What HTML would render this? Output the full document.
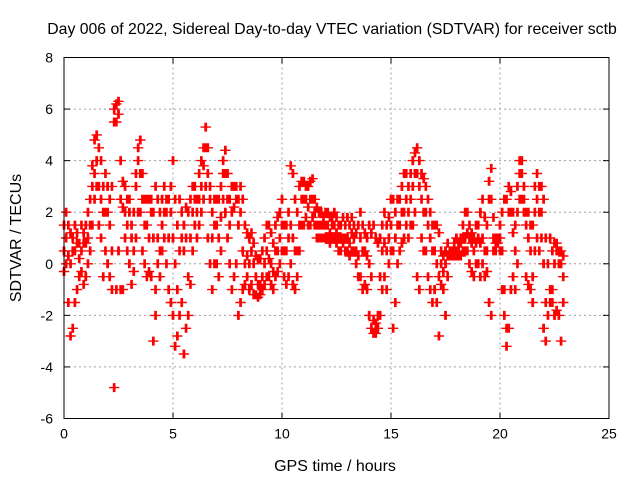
<!DOCTYPE html>
<html><head><meta charset="utf-8"><style>
body{margin:0;background:#fff;width:640px;height:480px;overflow:hidden}
svg text{font-family:"Liberation Sans",sans-serif;fill:#000}
</style></head><body>
<svg id="chart" width="640" height="480" xmlns="http://www.w3.org/2000/svg">
<text x="332" y="34" font-size="15.8" text-anchor="middle">Day 006 of 2022, Sidereal Day-to-day VTEC variation (SDTVAR) for receiver sctb</text>
<text x="0" y="0" font-size="16" text-anchor="middle" transform="translate(21,238) rotate(-90)">SDTVAR / TECUs</text>
<text x="335" y="471" font-size="16" text-anchor="middle">GPS time / hours</text>
<g id="grid"></g>
<g id="ticks"></g>
<g id="marks"></g>
<rect x="64" y="57.5" width="545" height="361" fill="none" stroke="#000" stroke-width="1"/>
</svg>
<script>
const xTicks=[0,5,10,15,20,25];
const yTicks=[-6,-4,-2,0,2,4,6,8];
const tStart=0, tStep=0.1;
const hiVals=[1.5,2,1.5,1.2,1,1.5,1.2,0.8,1.5,1.2,
1.5,2,2.5,3.8,4.8,5,4.5,4,3,3.5,
3,2.5,3,6,6.2,6.3,4,3.2,3,2.5,
2.5,1.5,2,3.5,4.5,4.8,3.5,2.5,2.5,2.5,
2.5,2,3,2.5,2,2.5,3,2.5,2.5,3,
4,2.5,1.5,2.5,2,1.5,2.2,2,2.5,3,
3,2.5,3.5,4,4.5,5.3,4.5,3,2,2.5,
2.5,2.5,3,4,4.4,3.5,2.5,3,3,3,
2.5,3,2.5,1.5,1.2,1,1.2,0.8,0.3,0.2,
0.2,0.5,1,1.5,1.5,1.2,0.8,1.5,1.8,2,
2.5,1.5,1.5,2,3.8,3.5,2.5,2,3,3.2,
3.2,3,3,3.2,3.3,2.5,2.2,2,2,1.8,
2,2,1.8,1.8,2,1.8,1.5,1.5,1.8,1.5,
1.8,1.5,1.8,1.5,1.2,1.5,2,1.5,1.2,1,
1.5,1.2,1.5,1,0.8,1,1.5,2,1.5,1.8,
2.5,2.5,2,2.5,2.5,3,3.5,3.5,3,3.5,
4,4.3,4.5,4,3.5,3.3,3,2.5,2,1.5,
1.5,1.5,1.2,0.5,0.3,0.5,0.8,0.5,0.5,0.8,
1,0.8,1,1.5,2,2,1.5,1.2,1,1.5,
1.5,2,2.5,1.8,1.5,3.2,3.7,1.8,1,1,
1.5,2,2.5,2.5,3,2.8,2,1.5,3,4,
4,3,2,2,1.5,1.5,3,3.5,3,3,
2.5,1,0,1,0.5,0.8,0.8,0.5,0.5,0.3];
const midVals=[0.5,1,0.3,0,0.5,0.5,0.8,0.2,0.5,0.8,
0.8,1,1.5,3,3.5,4,3,2.5,2,2,
2,1.5,0.5,5.5,5.5,5.8,2.5,2.2,2,1.5,
2,1,0.5,3,4,3.5,2.5,1.5,1.5,1,
2,1,-1,1,0.5,1.5,2,2,1,2,
1,0,-1,0.5,1,0.5,1,-0.5,1,2,
2.5,2,2.5,3,3.8,4.5,3.5,2.5,1,1.5,
1.5,1,1.8,3.5,3.5,2.5,1.5,2,2.2,2.5,
1.5,2,0.5,0,0.3,0,0.5,0,-0.5,-0.8,
-0.8,-0.5,0,0.5,0.2,0,-0.3,0.5,0.5,1,
1.5,0.5,0.5,1,1.5,1,0.5,0.5,1.5,2.5,
2.5,2.5,2.2,2.5,2.5,2,1.5,1.5,1.5,1.5,
1.5,1.5,1.2,1.5,1.5,1.2,1,1,1,1,
1,0.8,1.2,1,0.5,0.3,1,0.5,0.5,0.3,
0,-0.5,-2.2,-2.3,-2,-0.5,0.5,0.8,0.5,1,
1.5,0.5,1,1.5,1.5,2,2,2.5,2,2.5,
3,3.5,3.5,3,2.5,2,2,1.5,1,0.5,
0.5,0,-0.5,0,-0.3,0,0.3,0.5,0.5,0.5,
0.5,0.5,0.8,1,1,1.2,1,0.8,0.5,0.8,
1,0.8,1,0.5,0.5,2.5,2.5,1,0.8,1,
1,0.5,-1,-2.5,2,2,1.2,0.5,2,3.5,
3.5,2.5,1.5,1,0.5,-0.5,2,2.5,2,2,
0,-1.5,-2,-1,-1,0,0.5,0,0,-0.5];
const loVals=[-0.3,0,-1.5,-2.8,-2.5,-1.5,-1,-0.5,-0.3,-0.8,
-0.5,0,0.5,1.5,2.5,3,1.5,1,-0.5,0.5,
0,-0.5,-1,-4.8,-1,0.5,-1,-1,1,0.5,
0,-0.8,-0.3,1,2,2,0.5,0,-0.5,-0.3,
-0.5,-3,-2,0,-0.5,0.5,1,0,-1,-1.5,
-2,-3.2,-2.8,-2,-1.5,-3.5,-2.5,-2,-0.8,0.5,
1.5,1,1.5,2,2.5,3,1,0,-1,0,
0,-0.5,0.5,2.5,2,1,0,-1,-0.5,0,
-2,-1.5,-1,-0.8,-0.5,-1,-0.8,-1.2,-1.2,-1.3,
-1.2,-1,-0.8,-0.5,-0.5,-0.8,-1,-0.5,-0.3,0,
0.5,-0.5,-0.8,-0.5,0,-0.8,-1,-0.5,0.5,1.5,
1.5,1.8,1.5,1.5,1.8,1.5,1,1,1,1,
1,1,0.8,1,1,0.8,0.5,0.5,0.8,0.5,
0.5,0.3,0.5,0.5,0,-0.5,-0.5,-1,-0.8,-1,
-2,-2.5,-2.7,-2.7,-2.5,-2,-1,-0.5,-1,0,
0.5,-2.5,-1.5,0,0.5,0.8,1,1.5,1,1.5,
1.5,2,-0.5,-1,1,0.5,0.5,-0.5,-1,-1.5,
-1,-1.5,-2.8,-0.8,-1,-2,-0.5,0.3,0.3,0.3,
0.3,0.3,0.3,0.5,0.5,0.5,0,-0.3,-0.5,0,
0,-0.5,0,-0.5,-0.3,-1.5,-2,0.5,0.5,0.8,
0.5,-1,-2,-3.2,-2.5,-1,-0.5,-1,0,2.5,
2.5,2,-0.5,-0.8,-1,-1.5,0.5,1,0.5,1,
-2.5,-3,-2,-1.5,-1.5,-2,-1.8,-2,-3,-1.5];

const NS='http://www.w3.org/2000/svg';
const X0=64,X1=609,Y0=418.5,Y1=57.5;
function xs(v){return X0+(v-0)/(25-0)*(X1-X0);}
function ys(v){return Y0-(v-(-6))/(8-(-6))*(Y0-Y1);}
function mk(tag,attrs,parent){const e=document.createElementNS(NS,tag);for(const k in attrs)e.setAttribute(k,attrs[k]);parent.appendChild(e);return e;}
const grid=document.getElementById('grid'),ticks=document.getElementById('ticks'),marks=document.getElementById('marks');
xTicks.forEach(v=>{
  const x=xs(v);
  if(v>0&&v<25){const g=mk('line',{x1:x,x2:x,y1:Y1,y2:Y0,stroke:'#a0a0a0','stroke-dasharray':'2,3'},grid);
  
  }
  mk('line',{x1:x,x2:x,y1:Y0,y2:Y0-6,stroke:'#000'},ticks);
  mk('line',{x1:x,x2:x,y1:Y1,y2:Y1+6,stroke:'#000'},ticks);
  const t=mk('text',{x:x,y:Y0+20,'font-size':14,'text-anchor':'middle'},ticks);
  t.textContent=v;
  
  
});
yTicks.forEach(v=>{
  const y=ys(v);
  if(v>-6&&v<8){const g=mk('line',{x1:X0,x2:X1,y1:y,y2:y,stroke:'#a0a0a0','stroke-dasharray':'2,3'},grid);
  
  }
  mk('line',{x1:X0,x2:X0+6,y1:y,y2:y,stroke:'#000'},ticks);
  mk('line',{x1:X1,x2:X1-6,y1:y,y2:y,stroke:'#000'},ticks);
  const t=mk('text',{x:X0-11,y:y+5,'font-size':14,'text-anchor':'end'},ticks);
  t.textContent=v;
  
  
});
let d='';
[hiVals,midVals,loVals].forEach(arr=>{
  arr.forEach((v,i)=>{
    const y=ys(v);
    [-0.03,0.03].forEach(off=>{
      const x=xs(tStart+i*tStep+off);
      d+=`M${(x-4.5).toFixed(1)} ${y.toFixed(1)}h9M${x.toFixed(1)} ${(y-4.5).toFixed(1)}v9`;
    });
  });
});
const p=mk('path',{d:d,stroke:'#ff0000','stroke-width':1.4,fill:'none'},marks);


</script>
</body></html>
